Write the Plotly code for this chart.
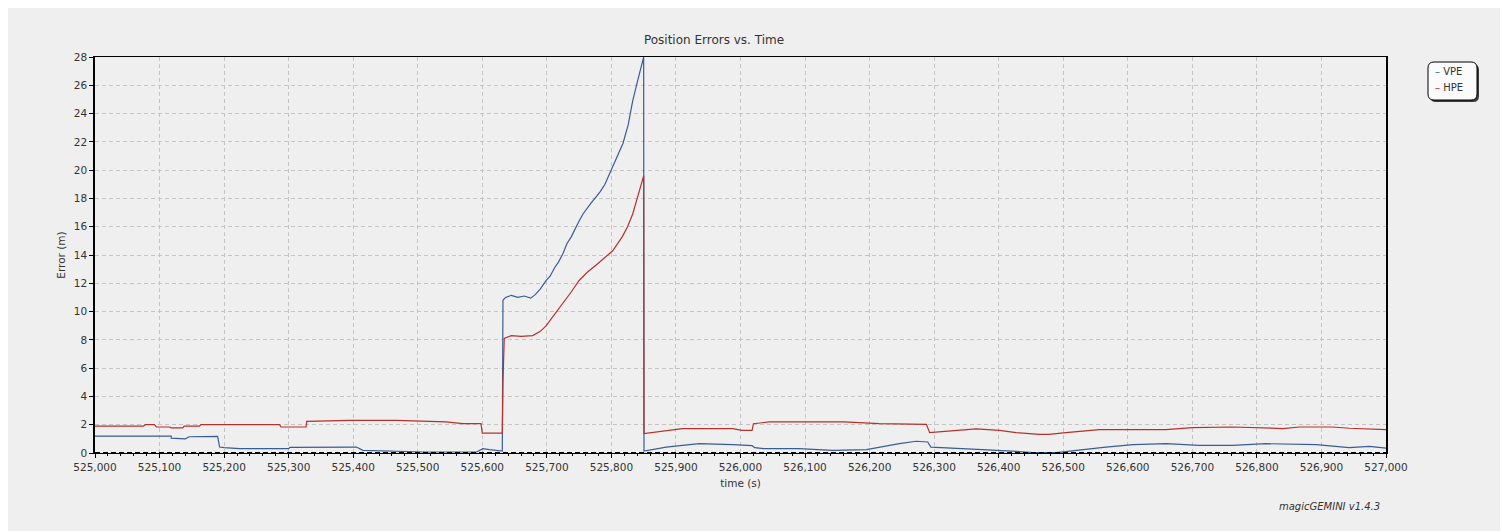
import plotly.graph_objects as go

# ---------------- data ----------------
vpe_time = [525000, 525118, 525118, 525140, 525146, 525190, 525193, 525200, 525224, 525300,
            525302, 525405, 525415, 525455, 525508, 525510, 525591, 525601, 525611, 525627,
            525631, 525632, 525636, 525645, 525655, 525665, 525675, 525682, 525690, 525699,
            525705, 525712, 525718, 525725, 525731, 525738, 525744, 525750, 525756, 525762,
            525769, 525776, 525783, 525790, 525796, 525802, 525810, 525818, 525826, 525833,
            525840, 525844, 525849, 525850, 525850.5, 525870, 525885, 525910,
            525936, 525988, 526018, 526022, 526036, 526091, 526120, 526143, 526195, 526220,
            526246, 526272, 526290, 526295, 526339, 526375, 526427, 526453, 526489, 526530,
            526566, 526608, 526659, 526711, 526762, 526814, 526892, 526943, 526974, 527000]
vpe_err = [1.2, 1.2, 1.05, 1.0, 1.15, 1.17, 0.42, 0.38, 0.31, 0.31,
           0.4, 0.42, 0.19, 0.14, 0.12, 0.07, 0.07, 0.31, 0.24, 0.14,
           0.14, 10.8, 11.0, 11.15, 11.0, 11.1, 10.95, 11.2, 11.6, 12.2,
           12.5, 13.1, 13.5, 14.1, 14.8, 15.3, 15.9, 16.4, 16.9, 17.3,
           17.7, 18.1, 18.5, 19.0, 19.6, 20.2, 21.0, 21.9, 23.2, 24.9,
           26.2, 27.0, 28.0, 28.0, 0.14, 0.3, 0.42, 0.54,
           0.66, 0.59, 0.52, 0.38, 0.31, 0.31, 0.22, 0.19, 0.24, 0.45,
           0.66, 0.83, 0.78, 0.42, 0.35, 0.24, 0.12, 0.02, 0.02, 0.24,
           0.42, 0.59, 0.66, 0.54, 0.54, 0.66, 0.59, 0.38, 0.47, 0.35]

hpe_time = [525000, 525075, 525078, 525092, 525095, 525116, 525118, 525136, 525138, 525162,
            525164, 525286, 525288, 525327, 525328, 525394, 525467, 525544, 525570, 525598,
            525600, 525631, 525632, 525634, 525645, 525660, 525678, 525690, 525699, 525712,
            525725, 525738, 525750, 525763, 525776, 525790, 525802, 525817, 525825, 525833,
            525838, 525844, 525849, 525850, 525850.5, 525885, 525910, 525988, 526002, 526018,
            526020, 526045, 526160, 526215, 526288, 526293, 526339, 526365, 526401, 526427,
            526463, 526478, 526504, 526556, 526659, 526700, 526762, 526799, 526840, 526866,
            526917, 526943, 527000]
hpe_err = [1.9, 1.9, 2.0, 2.0, 1.84, 1.84, 1.77, 1.77, 1.9, 1.9,
           2.0, 2.0, 1.84, 1.84, 2.24, 2.3, 2.3, 2.2, 2.07, 2.07,
           1.41, 1.41, 5.0, 8.1, 8.3, 8.25, 8.3, 8.6, 9.0, 9.8,
           10.56, 11.4, 12.2, 12.8, 13.27, 13.8, 14.3, 15.3, 16.0, 16.9,
           17.7, 18.6, 19.5, 19.6, 1.37, 1.6, 1.72, 1.72, 1.6, 1.6,
           2.07, 2.2, 2.2, 2.08, 2.03, 1.44, 1.6, 1.7, 1.6, 1.44,
           1.32, 1.32, 1.44, 1.65, 1.65, 1.8, 1.84, 1.8, 1.73, 1.84,
           1.84, 1.75, 1.65]

series_names = ["VPE", "HPE"]
series_colors = ["#3a5c96", "#b5312c"]
x_range = [525000, 527000]
y_range = [0, 28]

# ---------------- geometry (page pixels; page body has an 8px margin) ----------------
OFF = 8
W, H = 1500, 523
L, T = 95 - OFF, 57 - OFF
PW, PH = 1291, 396
R = W - L - PW
B = H - T - PH


def px(x):  # page x pixel -> paper
    return (x - OFF - L) / PW


def py(y):  # page y pixel -> paper
    return (T + PH - (y - OFF)) / PH


FONT = "DejaVu Sans"
TXT = "#333333"
BG = "#efefef"

fig = go.Figure()
fig.add_trace(go.Scatter(x=vpe_time, y=vpe_err, mode="lines", name=series_names[0],
                         line=dict(color=series_colors[0], width=1.2)))
fig.add_trace(go.Scatter(x=hpe_time, y=hpe_err, mode="lines", name=series_names[1],
                         line=dict(color=series_colors[1], width=1.2)))


def rounded_path(x0, y0, x1, y1, r):
    def P(x, y):
        return f"{px(x):.5f},{py(y):.5f}"
    return " ".join([
        f"M {P(x0 + r, y0)}", f"L {P(x1 - r, y0)}", f"Q {P(x1, y0)} {P(x1, y0 + r)}",
        f"L {P(x1, y1 - r)}", f"Q {P(x1, y1)} {P(x1 - r, y1)}", f"L {P(x0 + r, y1)}",
        f"Q {P(x0, y1)} {P(x0, y1 - r)}", f"L {P(x0, y0 + r)}", f"Q {P(x0, y0)} {P(x0 + r, y0)} Z",
    ])


shapes = [
    dict(type="line", xref="paper", yref="y", x0=0, x1=1, y0=0, y1=0,
         line=dict(color="black", width=2, dash="5px,3px")),
    dict(type="path", xref="paper", yref="paper", path=rounded_path(1430, 64, 1479, 102, 6),
         fillcolor="#3a3a3a", line=dict(width=0)),
    dict(type="path", xref="paper", yref="paper", path=rounded_path(1428, 62, 1477, 100, 6),
         fillcolor="#fbfbfb", line=dict(color="black", width=1)),
]

annotations = [
    dict(text=f"<span style='color:{series_colors[0]}'>–</span> {series_names[0]}",
         x=px(1433), y=py(72), xref="paper", yref="paper", xanchor="left", yanchor="middle",
         showarrow=False, font=dict(family=FONT, size=10, color=TXT)),
    dict(text=f"<span style='color:{series_colors[1]}'>–</span> {series_names[1]}",
         x=px(1433), y=py(87.5), xref="paper", yref="paper", xanchor="left", yanchor="middle",
         showarrow=False, font=dict(family=FONT, size=10, color=TXT)),
    dict(text="<i>magicGEMINI v1.4.3</i>", x=px(1382), y=py(507), xref="paper", yref="paper",
         xanchor="right", yanchor="middle", showarrow=False,
         font=dict(family=FONT, size=10, color=TXT)),
]

fig.update_layout(
    width=W, height=H, autosize=False,
    margin=dict(l=L, r=R, t=T, b=B, pad=0),
    paper_bgcolor=BG, plot_bgcolor=BG,
    showlegend=False,
    title=dict(text="Position Errors vs. Time", x=px(714), xref="paper", xanchor="center",
               y=1 - (40 - OFF) / H, yanchor="middle", font=dict(family=FONT, size=12, color=TXT)),
    font=dict(family=FONT, size=10.5, color=TXT),
    shapes=shapes, annotations=annotations,
)

fig.update_xaxes(
    range=x_range, dtick=100, tickformat=",d",
    showgrid=True, gridcolor="#c4c4c4", griddash="4px,3px", gridwidth=1,
    ticks="outside", ticklen=4, tickcolor="black", tickwidth=1,
    minor=dict(dtick=20, ticks="outside", ticklen=2, tickcolor="black", showgrid=False),
    showline=True, linecolor="black", linewidth=1, mirror=True, zeroline=False,
    title=dict(text="time (s)", standoff=8, font=dict(family=FONT, size=10.5, color=TXT)),
    tickfont=dict(family=FONT, size=10.5, color=TXT),
)
fig.update_yaxes(
    range=y_range, dtick=2,
    showgrid=True, gridcolor="#c4c4c4", griddash="4px,3px", gridwidth=1,
    ticks="outside", ticklen=4, tickcolor="black", tickwidth=1,
    showline=True, linecolor="black", linewidth=1.5, mirror=True, zeroline=False,
    title=dict(text="Error (m)", standoff=6, font=dict(family=FONT, size=10.5, color=TXT)),
    tickfont=dict(family=FONT, size=10.5, color=TXT),
)

fig.write_html("out.html")
